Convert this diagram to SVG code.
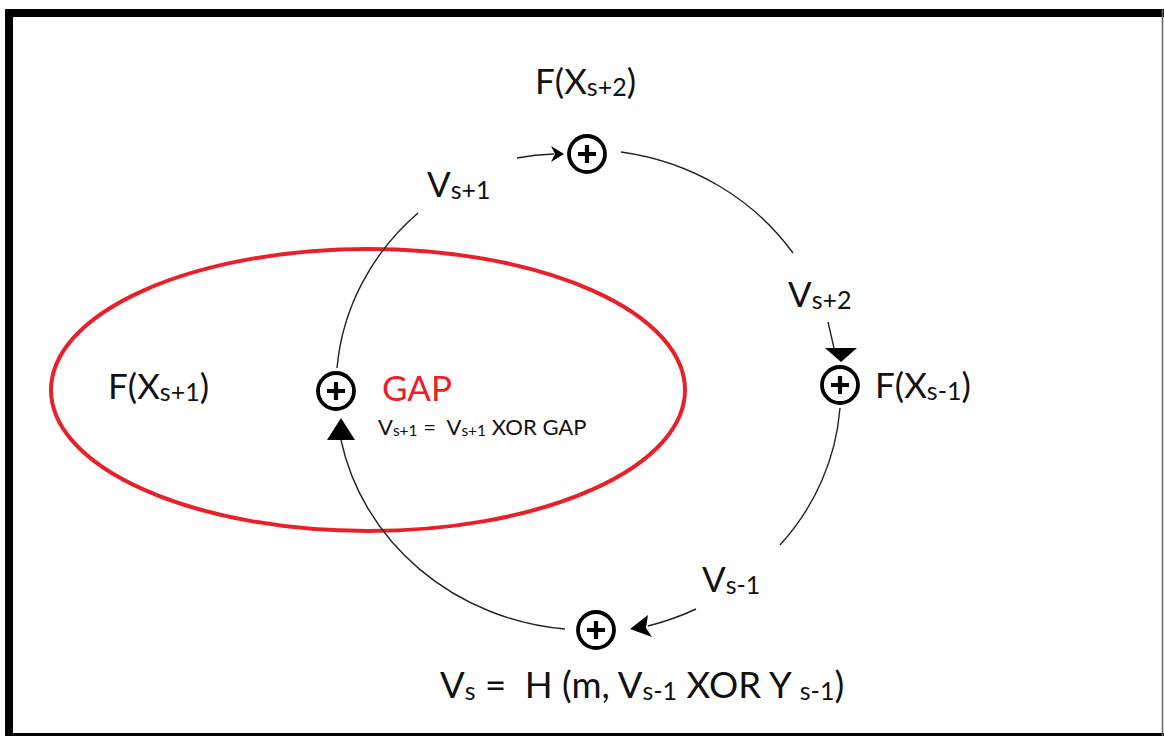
<svg xmlns="http://www.w3.org/2000/svg" width="1164" height="736" viewBox="0 0 1164 736">
<style>
.lbl{font-family:Lato,"Open Sans","Liberation Sans",sans-serif;fill:#111;}
.big{font-size:35px;}
.sub{font-size:25px;}
.conn{fill:none;stroke:#222;stroke-width:1.4;}
.head{fill:#000;stroke:none;}
.red{fill:#f01c28;}
</style>
<defs>
<g id="xor">
<circle cx="0" cy="0" r="18" fill="#fff" stroke="#000" stroke-width="3.8"/>
<path d="M-9,0H9M0,-9V9" stroke="#000" stroke-width="4.2" fill="none"/>
</g>
</defs>
<rect x="0" y="0" width="1164" height="736" fill="#fff"/>
<g id="frame">
<rect x="5" y="9" width="1159" height="8" fill="#000"/>
<rect x="5" y="9" width="8" height="727" fill="#000"/>
<rect x="5" y="733" width="1159" height="3" fill="#000"/>
<line x1="1162.5" y1="9" x2="1162.5" y2="736" stroke="#666" stroke-width="1.5"/>
</g>
<g id="gap-region">
<ellipse cx="368" cy="390" rx="317" ry="141" fill="none" stroke="#e8202a" stroke-width="4"/>
</g>
<g id="connectors">
<path class="conn" d="M517,158 A252,237 0 0 1 554,154"/>
<polygon class="head" points="551,146 564,154 551,162 555,154"/>
<path class="conn" d="M337,368 A252,237 0 0 1 418,213"/>
<path class="conn" d="M621,152 A252,237 0 0 1 793,253"/>
<path class="conn" d="M828,322 L834,348"/>
<polygon class="head" points="825,348 857,348 841,362"/>
<path class="conn" d="M840,408 A252,237 0 0 1 780,545"/>
<path class="conn" d="M696,609 A252,237 0 0 1 648,626"/>
<polygon class="head" points="630,629 648,615 646,628 652,637"/>
<path class="conn" d="M565,629 A252,237 0 0 1 341,440"/>
<polygon class="head" points="341,418 355,440 327,440"/>
</g>
<g id="node-top">
<use href="#xor" x="587" y="154"/>
<text class="lbl big" x="535" y="94">F(X<tspan class="sub" dy="2">s+2</tspan><tspan dy="-2">)</tspan></text>
</g>
<g id="node-right">
<use href="#xor" x="840" y="385"/>
<text class="lbl big" x="875" y="398">F(X<tspan class="sub" dy="2">s-1</tspan><tspan dy="-2">)</tspan></text>
</g>
<g id="node-bottom">
<use href="#xor" x="596" y="630"/>
<text class="lbl" font-size="36.5" x="440" y="698" xml:space="preserve">V<tspan font-size="25" dy="2">s</tspan><tspan dy="-2"> =  H (m, V</tspan><tspan font-size="25" dy="2">s-1</tspan><tspan dy="-2"> XOR Y </tspan><tspan font-size="25" dy="2">s-1</tspan><tspan dy="-2">)</tspan></text>
</g>
<g id="node-gap">
<use href="#xor" x="336" y="391"/>
<text class="lbl red" font-size="35" x="382" y="401">GAP</text>
<text class="lbl" font-size="22" x="378" y="435" xml:space="preserve">V<tspan font-size="15.5" dy="1">s+1</tspan><tspan dy="-1"> =  V</tspan><tspan font-size="15.5" dy="1">s+1</tspan><tspan dy="-1"> XOR GAP</tspan></text>
</g>
<g id="label-fxs1">
<text class="lbl big" x="108" y="399">F(X<tspan class="sub" dy="2">s+1</tspan><tspan dy="-2">)</tspan></text>
</g>
<g id="edge-labels">
<text class="lbl" font-size="35" x="427" y="197">V<tspan class="sub" dy="2">s+1</tspan></text>
<text class="lbl" font-size="35" x="788" y="307">V<tspan class="sub" dy="2">s+2</tspan></text>
<text class="lbl" font-size="35" x="702" y="592">V<tspan class="sub" dy="2">s-1</tspan></text>
</g>
</svg>
